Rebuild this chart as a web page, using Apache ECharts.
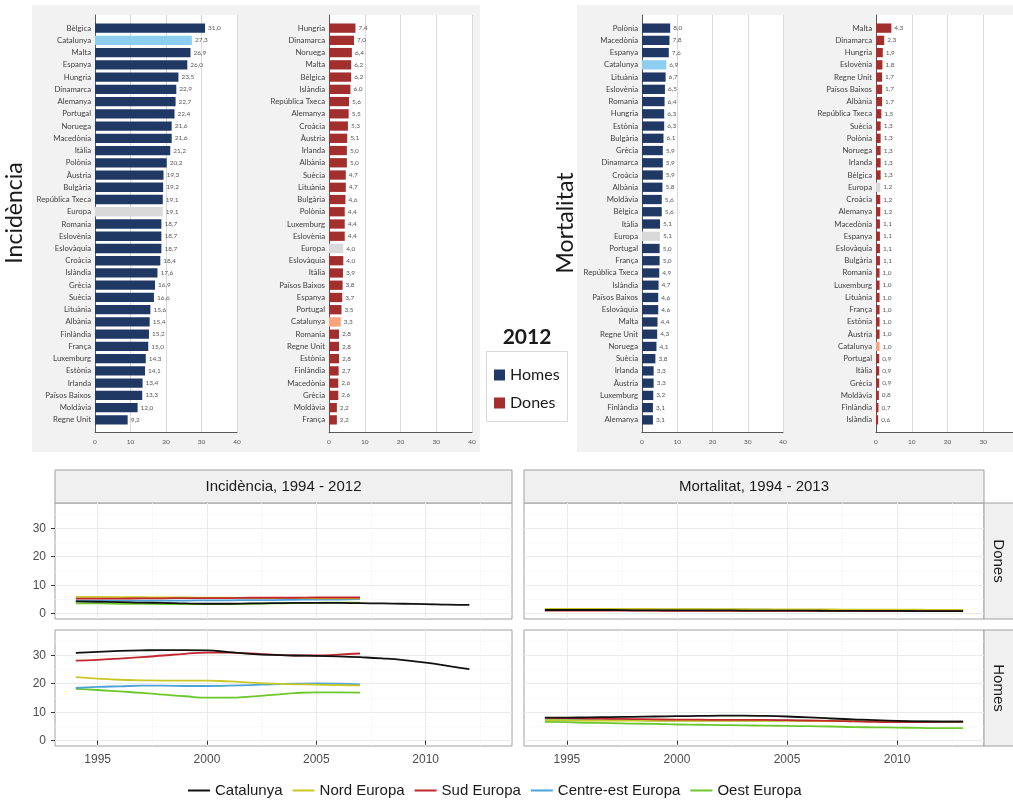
<!DOCTYPE html>
<html>
<head>
<meta charset="utf-8">
<script src="https://cdn.jsdelivr.net/npm/echarts@6/dist/echarts.min.js"></script>
<style>
html,body{margin:0;padding:0;background:#fff}
#chart{width:1013px;height:804px}
</style>
</head>
<body>
<div id="chart"></div>
<script>
// ---- 2012 rankings (taxes per 100.000) ----
const incHomesCats = ['Bèlgica','Catalunya','Malta','Espanya','Hungria','Dinamarca','Alemanya','Portugal','Noruega','Macedònia','Itàlia','Polònia','Àustria','Bulgària','República Txeca','Europa','Romania','Eslovènia','Eslovàquia','Croàcia','Islàndia','Grècia','Suècia','Lituània','Albània','Finlàndia','França','Luxemburg','Estònia','Irlanda','Països Baixos','Moldàvia','Regne Unit'];
const incHomesVals = [31.0,27.3,26.9,26.0,23.5,22.9,22.7,22.4,21.6,21.6,21.2,20.2,19.3,19.2,19.1,19.1,18.7,18.7,18.7,18.4,17.6,16.9,16.6,15.6,15.4,15.2,15.0,14.3,14.1,13.4,13.3,12.0,9.2];

const incDonesCats = ['Hungria','Dinamarca','Noruega','Malta','Bèlgica','Islàndia','República Txeca','Alemanya','Croàcia','Àustria','Irlanda','Albània','Suècia','Lituània','Bulgària','Polònia','Luxemburg','Eslovènia','Europa','Eslovàquia','Itàlia','Països Baixos','Espanya','Portugal','Catalunya','Romania','Regne Unit','Estònia','Finlàndia','Macedònia','Grècia','Moldàvia','França'];
const incDonesVals = [7.4,7.0,6.4,6.2,6.2,6.0,5.6,5.5,5.3,5.1,5.0,5.0,4.7,4.7,4.6,4.4,4.4,4.4,4.0,4.0,3.9,3.8,3.7,3.5,3.3,2.8,2.8,2.8,2.7,2.6,2.6,2.2,2.2];

const mortHomesCats = ['Polònia','Macedònia','Espanya','Catalunya','Lituània','Eslovènia','Romania','Hungria','Estònia','Bulgària','Grècia','Dinamarca','Croàcia','Albània','Moldàvia','Bèlgica','Itàlia','Europa','Portugal','França','República Txeca','Islàndia','Països Baixos','Eslovàquia','Malta','Regne Unit','Noruega','Suècia','Irlanda','Àustria','Luxemburg','Finlàndia','Alemanya'];
const mortHomesVals = [8.0,7.8,7.6,6.9,6.7,6.5,6.4,6.3,6.3,6.1,5.9,5.9,5.9,5.8,5.6,5.6,5.1,5.1,5.0,5.0,4.9,4.7,4.6,4.6,4.4,4.3,4.1,3.8,3.3,3.3,3.2,3.1,3.1];

const mortDonesCats = ['Malta','Dinamarca','Hungria','Eslovènia','Regne Unit','Països Baixos','Albània','República Txeca','Suècia','Polònia','Noruega','Irlanda','Bèlgica','Europa','Croàcia','Alemanya','Macedònia','Espanya','Eslovàquia','Bulgària','Romania','Luxemburg','Lituània','França','Estònia','Àustria','Catalunya','Portugal','Itàlia','Grècia','Moldàvia','Finlàndia','Islàndia'];
const mortDonesVals = [4.3,2.3,1.9,1.8,1.7,1.7,1.7,1.5,1.3,1.3,1.3,1.3,1.3,1.2,1.2,1.2,1.1,1.1,1.1,1.1,1.0,1.0,1.0,1.0,1.0,1.0,1.0,0.9,0.9,0.9,0.8,0.7,0.6];

// ---- trends ----
const yearsInc = [1994,1995,1996,1997,1998,1999,2000,2001,2002,2003,2004,2005,2006,2007];
const yearsIncCat = [1994,1995,1996,1997,1998,1999,2000,2001,2002,2003,2004,2005,2006,2007,2008,2009,2010,2011,2012];
const yearsMort = [1994,1995,1996,1997,1998,1999,2000,2001,2002,2003,2004,2005,2006,2007,2008,2009,2010,2011,2012,2013];

const incDonesCatalunya = [4.3,4.2,4.1,3.9,3.8,3.6,3.5,3.5,3.6,3.7,3.8,3.8,3.8,3.7,3.6,3.5,3.4,3.2,3.1];
const incDonesNord      = [5.9,5.9,5.8,5.8,5.7,5.7,5.6,5.6,5.5,5.5,5.5,5.4,5.4,5.4];
const incDonesSud       = [5.3,5.3,5.3,5.4,5.4,5.5,5.5,5.5,5.6,5.6,5.6,5.7,5.7,5.7];
const incDonesCentreEst = [4.6,4.6,4.6,4.6,4.6,4.6,4.7,4.7,4.8,4.8,4.9,5.0,5.0,5.1];
const incDonesOest      = [3.6,3.6,3.5,3.5,3.4,3.4,3.4,3.4,3.5,3.6,3.7,3.8,3.9,3.9];

const incHomesCatalunya = [30.8,31.2,31.5,31.7,31.8,31.8,31.7,31.1,30.5,30.1,29.9,29.8,29.6,29.3,28.9,28.3,27.4,26.3,25.1];
const incHomesNord      = [22.3,21.8,21.4,21.2,21.1,21.1,21.1,20.8,20.4,20.0,19.8,19.7,19.5,19.4];
const incHomesSud       = [28.1,28.4,28.8,29.3,29.9,30.5,30.9,30.9,30.6,30.2,29.9,29.9,30.2,30.6];
const incHomesCentreEst = [18.5,18.9,19.1,19.3,19.3,19.2,19.2,19.3,19.5,19.8,20.0,20.1,20.0,19.8];
const incHomesOest      = [18.2,17.8,17.3,16.8,16.2,15.6,15.1,15.1,15.5,16.1,16.7,17.0,17.0,16.9];

const mortDonesCatalunya = [1.3,1.3,1.3,1.3,1.2,1.2,1.2,1.2,1.2,1.1,1.1,1.1,1.1,1.0,1.0,1.0,1.0,0.9,0.9,0.9];
const mortDonesNord      = [1.7,1.7,1.7,1.7,1.7,1.6,1.6,1.6,1.6,1.6,1.5,1.5,1.5,1.5,1.4,1.4,1.4,1.4,1.3,1.3];
const mortDonesSud       = [1.1,1.1,1.1,1.1,1.1,1.1,1.0,1.0,1.0,1.0,1.0,1.0,1.0,1.0,1.0,0.9,0.9,0.9,0.9,0.9];
const mortDonesCentreEst = [1.4,1.4,1.4,1.4,1.4,1.4,1.4,1.4,1.4,1.4,1.4,1.3,1.3,1.3,1.3,1.3,1.3,1.3,1.3,1.3];
const mortDonesOest      = [1.5,1.5,1.5,1.5,1.4,1.4,1.4,1.4,1.3,1.3,1.3,1.3,1.2,1.2,1.2,1.2,1.1,1.1,1.1,1.1];

const mortHomesCatalunya = [8.1,8.1,8.2,8.3,8.4,8.5,8.6,8.7,8.8,8.8,8.7,8.5,8.2,7.8,7.5,7.2,7.0,6.8,6.7,6.7];
const mortHomesNord      = [7.2,7.2,7.1,7.1,7.1,7.0,7.0,7.0,7.0,7.0,7.0,7.0,6.9,6.9,6.9,6.8,6.8,6.7,6.7,6.6];
const mortHomesSud       = [8.0,7.9,7.8,7.7,7.6,7.5,7.4,7.4,7.3,7.3,7.3,7.2,7.1,7.0,6.8,6.6,6.5,6.5,6.6,6.7];
const mortHomesCentreEst = [7.3,7.3,7.2,7.2,7.2,7.1,7.1,7.1,7.1,7.1,7.1,7.1,7.0,7.0,7.0,6.9,6.9,6.8,6.8,6.7];
const mortHomesOest      = [6.6,6.5,6.3,6.2,6.0,5.9,5.7,5.6,5.5,5.4,5.3,5.2,5.1,5.0,4.8,4.7,4.6,4.5,4.4,4.4];

const regionNames = ['Catalunya','Nord Europa','Sud Europa','Centre-est Europa','Oest Europa'];
const xTicks = [1995, 2000, 2005, 2010];
const yTicks = [0, 10, 20, 30];

// ---- styling ----
const FONT_TOP = 'Lato, "Open Sans", sans-serif';
const FONT_BOT = '"Liberation Sans", Arial, sans-serif';
const NAVY = '#1f3864', RED = '#a32e2e', CAT_H = '#8dcdf0', CAT_D = '#f8a47c', EUR = '#d9d9d9';
const REGION_COLORS = {
  'Catalunya': '#111111',
  'Nord Europa': '#c9c822',
  'Sud Europa': '#c1272d',
  'Centre-est Europa': '#4ba3d9',
  'Oest Europa': '#6cc72b'
};

const grid = [], xAxis = [], yAxis = [], series = [];

// ---- horizontal bar rankings ----
const barPanels = [
  {cats: incHomesCats,  vals: incHomesVals,  sex: 'Homes', left: 95,  width: 142},
  {cats: incDonesCats,  vals: incDonesVals,  sex: 'Dones', left: 329, width: 143},
  {cats: mortHomesCats, vals: mortHomesVals, sex: 'Homes', left: 642, width: 141},
  {cats: mortDonesCats, vals: mortDonesVals, sex: 'Dones', left: 876, width: 143}
];

barPanels.forEach(p => {
  // frame: white plot area, value axis with gridlines and the axis lines
  const gFrame = grid.length;
  grid.push({left: p.left, top: 15, width: p.width, height: 417, show: true,
             backgroundColor: '#ffffff', borderWidth: 0, outerBoundsMode: 'none'});
  xAxis.push({gridIndex: gFrame, type: 'value', min: 0, max: 40, interval: 10,
    axisLine: {show: true, lineStyle: {color: '#595959', width: 1}},
    axisTick: {show: false},
    axisLabel: {fontSize: 6.5, color: '#595959', margin: 6, fontFamily: FONT_TOP},
    splitLine: {show: true, lineStyle: {color: '#d9d9d9', width: 1}}});
  yAxis.push({gridIndex: gFrame, type: 'value', min: 0, max: 1,
    axisLine: {show: true, lineStyle: {color: '#595959', width: 1}},
    axisTick: {show: false}, axisLabel: {show: false}, splitLine: {show: false}});

  // bars with their country labels
  const gBar = grid.length;
  grid.push({left: p.left, top: 22, width: p.width, height: 404, outerBoundsMode: 'none'});
  xAxis.push({gridIndex: gBar, type: 'value', min: 0, max: 40, show: false});
  yAxis.push({gridIndex: gBar, type: 'category', data: p.cats, inverse: true,
    axisLine: {show: false}, axisTick: {show: false}, splitLine: {show: false},
    axisLabel: {interval: 0, fontSize: 7.8, color: '#404040', margin: 4, fontFamily: FONT_TOP}});

  const base = p.sex === 'Homes' ? NAVY : RED;
  const cat = p.sex === 'Homes' ? CAT_H : CAT_D;
  series.push({
    type: 'bar', name: p.sex,
    xAxisIndex: xAxis.length - 1, yAxisIndex: yAxis.length - 1,
    barCategoryGap: '24%',
    itemStyle: {color: base},
    data: p.vals.map((v, i) => ({
      value: v,
      itemStyle: {color: p.cats[i] === 'Catalunya' ? cat : (p.cats[i] === 'Europa' ? EUR : base)}
    })),
    label: {show: true, position: 'right', distance: 3, fontSize: 6.5, color: '#595959',
            fontFamily: FONT_TOP, formatter: d => d.value.toFixed(1).replace('.', ',')},
    silent: true, animation: false
  });
});

// ---- trend facets ----
function sets(cat, nord, sud, ce, oest, yearsRegion, yearsCat) {
  // drawing order: Catalunya last so it sits on top
  return [
    {name: 'Oest Europa', years: yearsRegion, vals: oest},
    {name: 'Centre-est Europa', years: yearsRegion, vals: ce},
    {name: 'Nord Europa', years: yearsRegion, vals: nord},
    {name: 'Sud Europa', years: yearsRegion, vals: sud},
    {name: 'Catalunya', years: yearsCat, vals: cat}
  ];
}

const linePanels = [
  {left: 55,  top: 503, width: 457, showY: true,  showX: false,
   lines: sets(incDonesCatalunya, incDonesNord, incDonesSud, incDonesCentreEst, incDonesOest, yearsInc, yearsIncCat)},
  {left: 524, top: 503, width: 460, showY: false, showX: false,
   lines: sets(mortDonesCatalunya, mortDonesNord, mortDonesSud, mortDonesCentreEst, mortDonesOest, yearsMort, yearsMort)},
  {left: 55,  top: 630, width: 457, showY: true,  showX: true,
   lines: sets(incHomesCatalunya, incHomesNord, incHomesSud, incHomesCentreEst, incHomesOest, yearsInc, yearsIncCat)},
  {left: 524, top: 630, width: 460, showY: false, showX: true,
   lines: sets(mortHomesCatalunya, mortHomesNord, mortHomesSud, mortHomesCentreEst, mortHomesOest, yearsMort, yearsMort)}
];

linePanels.forEach(p => {
  const g = grid.length;
  grid.push({left: p.left, top: p.top, width: p.width, height: 116, show: true,
             backgroundColor: '#ffffff', borderColor: '#a0a0a0', borderWidth: 1, outerBoundsMode: 'none'});
  xAxis.push({gridIndex: g, type: 'value', min: 1993.05, max: 2013.95,
    axisLine: {show: false},
    axisTick: {show: p.showX, customValues: xTicks, length: 4, lineStyle: {color: '#333333'}},
    axisLabel: {show: p.showX, customValues: xTicks, fontSize: 12, color: '#4d4d4d', margin: 8,
                fontFamily: FONT_BOT, formatter: v => String(v)},
    splitLine: {show: true, lineStyle: {color: '#ebebeb', width: 1}}});
  yAxis.push({gridIndex: g, type: 'value', min: -1.85, max: 38.85,
    axisLine: {show: false},
    axisTick: {show: p.showY, customValues: yTicks, length: 4, lineStyle: {color: '#333333'}},
    axisLabel: {show: p.showY, customValues: yTicks, fontSize: 12, color: '#4d4d4d', margin: 9,
                fontFamily: FONT_BOT, formatter: v => String(v)},
    splitLine: {show: true, lineStyle: {color: '#ebebeb', width: 1}}});

  p.lines.forEach((s, k) => {
    const ser = {
      type: 'line', name: s.name,
      xAxisIndex: xAxis.length - 1, yAxisIndex: yAxis.length - 1,
      data: s.years.map((yr, i) => [yr, s.vals[i]]),
      smooth: 0.5, symbol: 'none', showSymbol: false,
      lineStyle: {width: 1.8, color: REGION_COLORS[s.name]},
      itemStyle: {color: REGION_COLORS[s.name]},
      silent: true, animation: false
    };
    if (k === 0) {
      // faint minor grid
      ser.markLine = {
        silent: true, symbol: ['none', 'none'], label: {show: false}, animation: false, z: 0,
        lineStyle: {color: '#f5f5f5', width: 0.6, type: 'solid'},
        data: [{xAxis: 1997.5}, {xAxis: 2002.5}, {xAxis: 2007.5}, {xAxis: 2012.5},
               {yAxis: 5}, {yAxis: 15}, {yAxis: 25}, {yAxis: 35}]
      };
    }
    series.push(ser);
  });
});

const txt = (text, x, y, font, extra) => Object.assign({
  type: 'text', x: x, y: y,
  style: {text: text, font: font, fill: '#1a1a1a',
          textAlign: 'center', textVerticalAlign: 'middle', align: 'center', verticalAlign: 'middle'}
}, extra || {});

const option = {
  backgroundColor: '#ffffff',
  animation: false,
  grid, xAxis, yAxis, series,
  legend: [
    {
      data: regionNames, left: 188, top: 783, padding: 0,
      icon: 'rect', itemWidth: 22, itemHeight: 2, itemGap: 10,
      selectedMode: false,
      textStyle: {fontSize: 15, color: '#1a1a1a', fontFamily: FONT_BOT}
    },
    {
      data: ['Homes', 'Dones'], orient: 'vertical', left: 494, top: 366, padding: 0,
      icon: 'rect', itemWidth: 11, itemHeight: 11, itemGap: 10,
      selectedMode: false,
      textStyle: {fontSize: 16, lineHeight: 18, color: '#1a1a1a', fontFamily: FONT_TOP}
    }
  ],
  graphic: [
    // panel backgrounds for the rankings
    {type: 'rect', z: -5, shape: {x: 32, y: 5, width: 448, height: 447}, style: {fill: '#f2f2f2'}},
    {type: 'rect', z: -5, shape: {x: 577, y: 5, width: 436, height: 447}, style: {fill: '#f2f2f2'}},
    txt('Incidència', 15, 213, '23px Lato', {rotation: Math.PI / 2}),
    txt('Mortalitat', 566, 223, '23px Lato', {rotation: Math.PI / 2}),
    // year box
    {type: 'rect', shape: {x: 486.5, y: 351.5, width: 81, height: 70},
     style: {fill: '#ffffff', stroke: '#d9d9d9', lineWidth: 1}},
    txt('2012', 527, 337, 'bold 21px Lato'),
    // facet strips
    {type: 'rect', shape: {x: 55, y: 470, width: 457, height: 33},
     style: {fill: '#f0f0f0', stroke: '#a0a0a0', lineWidth: 1}},
    {type: 'rect', shape: {x: 524, y: 470, width: 460, height: 33},
     style: {fill: '#f0f0f0', stroke: '#a0a0a0', lineWidth: 1}},
    {type: 'rect', shape: {x: 984, y: 503, width: 32, height: 116},
     style: {fill: '#f0f0f0', stroke: '#a0a0a0', lineWidth: 1}},
    {type: 'rect', shape: {x: 984, y: 630, width: 32, height: 116},
     style: {fill: '#f0f0f0', stroke: '#a0a0a0', lineWidth: 1}},
    txt('Incidència, 1994 - 2012', 283.5, 487, '15px "Liberation Sans", Arial, sans-serif'),
    txt('Mortalitat, 1994 - 2013', 754, 487, '15px "Liberation Sans", Arial, sans-serif'),
    txt('Dones', 998.5, 561, '15px "Liberation Sans", Arial, sans-serif', {rotation: -Math.PI / 2}),
    txt('Homes', 998.5, 688, '15px "Liberation Sans", Arial, sans-serif', {rotation: -Math.PI / 2})
  ]
};

const chart = echarts.init(document.getElementById('chart'), null, {renderer: 'canvas'});
chart.setOption(option);
</script>
</body>
</html>
